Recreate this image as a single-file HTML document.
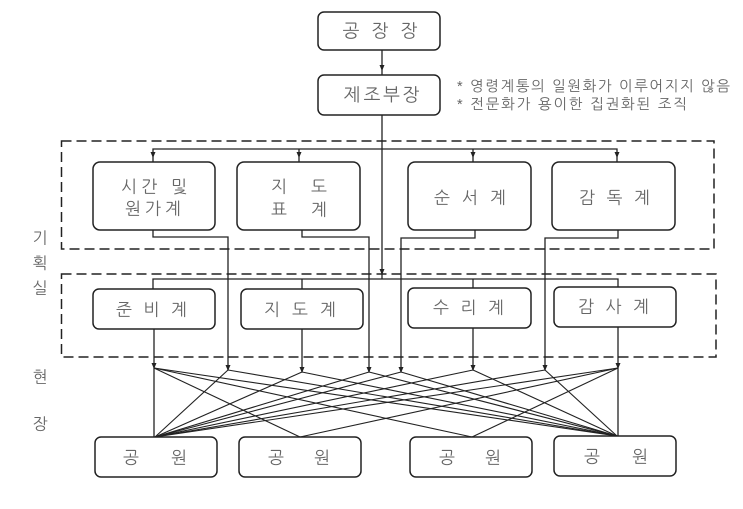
<!DOCTYPE html>
<html><head><meta charset="utf-8">
<style>
html,body{margin:0;padding:0;background:#fff;}
svg{display:block;}
text{font-family:"Liberation Sans","NanumGothic","Noto Sans CJK KR",sans-serif;fill:#666;}
</style></head>
<body>
<svg width="743" height="509" viewBox="0 0 743 509" xmlns="http://www.w3.org/2000/svg">
<rect width="743" height="509" fill="#fff"/>
<g fill="none" stroke="#222" stroke-width="1.5">
  <rect x="318" y="12" width="122" height="38" rx="6"/>
  <rect x="318" y="75" width="122" height="40" rx="6"/>
  <rect x="93" y="162" width="122" height="68" rx="7"/>
  <rect x="237" y="162" width="123" height="68" rx="7"/>
  <rect x="408" y="162" width="123" height="68" rx="7"/>
  <rect x="552" y="162" width="123" height="68" rx="7"/>
  <rect x="93" y="289" width="122" height="40" rx="6"/>
  <rect x="241" y="289" width="122" height="40" rx="6"/>
  <rect x="408" y="288" width="123" height="40" rx="6"/>
  <rect x="554" y="287" width="122" height="40" rx="6"/>
  <rect x="95" y="437" width="122" height="40" rx="6"/>
  <rect x="239" y="437" width="122" height="40" rx="6"/>
  <rect x="410" y="437" width="122" height="40" rx="6"/>
  <rect x="554" y="436" width="122" height="40" rx="6"/>
</g>
<g fill="none" stroke="#222" stroke-width="1.5" stroke-dasharray="10,5">
  <rect x="61.5" y="141" width="652.5" height="108"/>
  <rect x="61.5" y="274" width="654.5" height="83"/>
</g>
<g fill="none" stroke="#222" stroke-width="1.3">
  <line x1="382" y1="50" x2="382" y2="75"/>
  <line x1="382" y1="115" x2="382" y2="279"/>
  <polyline points="153,162 153,149 617,149 617,162"/>
  <line x1="299" y1="149" x2="299" y2="162"/>
  <line x1="473" y1="149" x2="473" y2="162"/>
  <polyline points="153,289 153,279 618,279 618,287"/>
  <line x1="302" y1="279" x2="302" y2="289"/>
  <line x1="473" y1="279" x2="473" y2="288"/>
  <polyline points="153,230 153,237 228,237 228,370"/>
  <polyline points="302,230 302,237 369,237 369,372"/>
  <polyline points="475,230 475,238 401,238 401,372"/>
  <polyline points="618,230 618,238 545,238 545,370"/>
  <line x1="154" y1="329" x2="154" y2="437"/>
  <line x1="302" y1="329" x2="302" y2="372"/>
  <line x1="473" y1="328" x2="473" y2="370"/>
  <line x1="618" y1="327" x2="618" y2="436"/>
</g>
<g fill="none" stroke="#222" stroke-width="1.1">
  <line x1="228" y1="370" x2="155" y2="437"/>
  <line x1="302" y1="372" x2="155" y2="437"/>
  <line x1="369" y1="372" x2="155" y2="437"/>
  <line x1="401" y1="372" x2="155" y2="437"/>
  <line x1="473" y1="370" x2="155" y2="437"/>
  <line x1="545" y1="370" x2="155" y2="437"/>
  <line x1="618" y1="368" x2="155" y2="437"/>
  <line x1="154" y1="368" x2="617" y2="436"/>
  <line x1="228" y1="370" x2="617" y2="436"/>
  <line x1="302" y1="372" x2="617" y2="436"/>
  <line x1="369" y1="372" x2="617" y2="436"/>
  <line x1="401" y1="372" x2="617" y2="436"/>
  <line x1="473" y1="370" x2="617" y2="436"/>
  <line x1="545" y1="370" x2="617" y2="436"/>
  <line x1="154" y1="368" x2="300" y2="437"/>
  <line x1="618" y1="368" x2="300" y2="437"/>
  <line x1="154" y1="368" x2="472" y2="437"/>
  <line x1="618" y1="368" x2="472" y2="437"/>
</g>
<g fill="#222">
  <polygon points="379.5,65 384.5,65 382,71"/>
  <polygon points="379.5,269 384.5,269 382,275"/>
  <polygon points="150.5,152 155.5,152 153,158"/>
  <polygon points="296.5,152 301.5,152 299,158"/>
  <polygon points="470.5,152 475.5,152 473,158"/>
  <polygon points="614.5,152 619.5,152 617,158"/>
  <polygon points="151.5,363 156.5,363 154,369"/>
  <polygon points="225.5,365 230.5,365 228,371"/>
  <polygon points="299.5,367 304.5,367 302,373"/>
  <polygon points="366.5,367 371.5,367 369,373"/>
  <polygon points="398.5,367 403.5,367 401,373"/>
  <polygon points="470.5,365 475.5,365 473,371"/>
  <polygon points="542.5,365 547.5,365 545,371"/>
  <polygon points="615.5,363 620.5,363 618,369"/>
</g>
<g font-size="18" text-anchor="middle" dominant-baseline="central">
  <text x="351" y="31">공</text><text x="380" y="31">장</text><text x="409" y="31">장</text>
  <text x="352" y="95">제</text><text x="372" y="95">조</text><text x="391.5" y="95">부</text><text x="411" y="95">장</text>
</g>
<g font-size="17" dominant-baseline="central">
  <text x="121" y="187" textLength="66" lengthAdjust="spacing">시간 및</text>
  <text x="125" y="209" textLength="56" lengthAdjust="spacing">원가계</text>
</g>
<g font-size="17" text-anchor="middle" dominant-baseline="central">
  <text x="279" y="187">지</text><text x="319" y="187">도</text>
  <text x="279" y="210">표</text><text x="319" y="210">계</text>
  <text x="442" y="198">순</text><text x="470" y="198">서</text><text x="498" y="198">계</text>
  <text x="587" y="198">감</text><text x="614.5" y="198">독</text><text x="642" y="198">계</text>
  <text x="124" y="310">준</text><text x="151.5" y="310">비</text><text x="179" y="310">계</text>
  <text x="272" y="310">지</text><text x="300" y="310">도</text><text x="328" y="310">계</text>
  <text x="441" y="308">수</text><text x="468.5" y="308">리</text><text x="496" y="308">계</text>
  <text x="586" y="307">감</text><text x="613.5" y="307">사</text><text x="641" y="307">계</text>
  <text x="131" y="458">공</text><text x="179" y="458">원</text>
  <text x="276" y="458">공</text><text x="322" y="458">원</text>
  <text x="447" y="458">공</text><text x="493" y="458">원</text>
  <text x="592" y="457">공</text><text x="640" y="457">원</text>
</g>
<g font-size="16" text-anchor="middle" dominant-baseline="central">
  <text x="40" y="239">기</text>
  <text x="40" y="264">획</text>
  <text x="40" y="289">실</text>
  <text x="40" y="378">현</text>
  <text x="40" y="425">장</text>
</g>
<g font-size="14.5" dominant-baseline="central">
  <text x="457" y="87" textLength="273" lengthAdjust="spacing">* 영령계통의 일원화가 이루어지지 않음</text>
  <text x="457" y="105" textLength="230" lengthAdjust="spacing">* 전문화가 용이한 집권화된 조직</text>
</g>
</svg>
</body></html>
